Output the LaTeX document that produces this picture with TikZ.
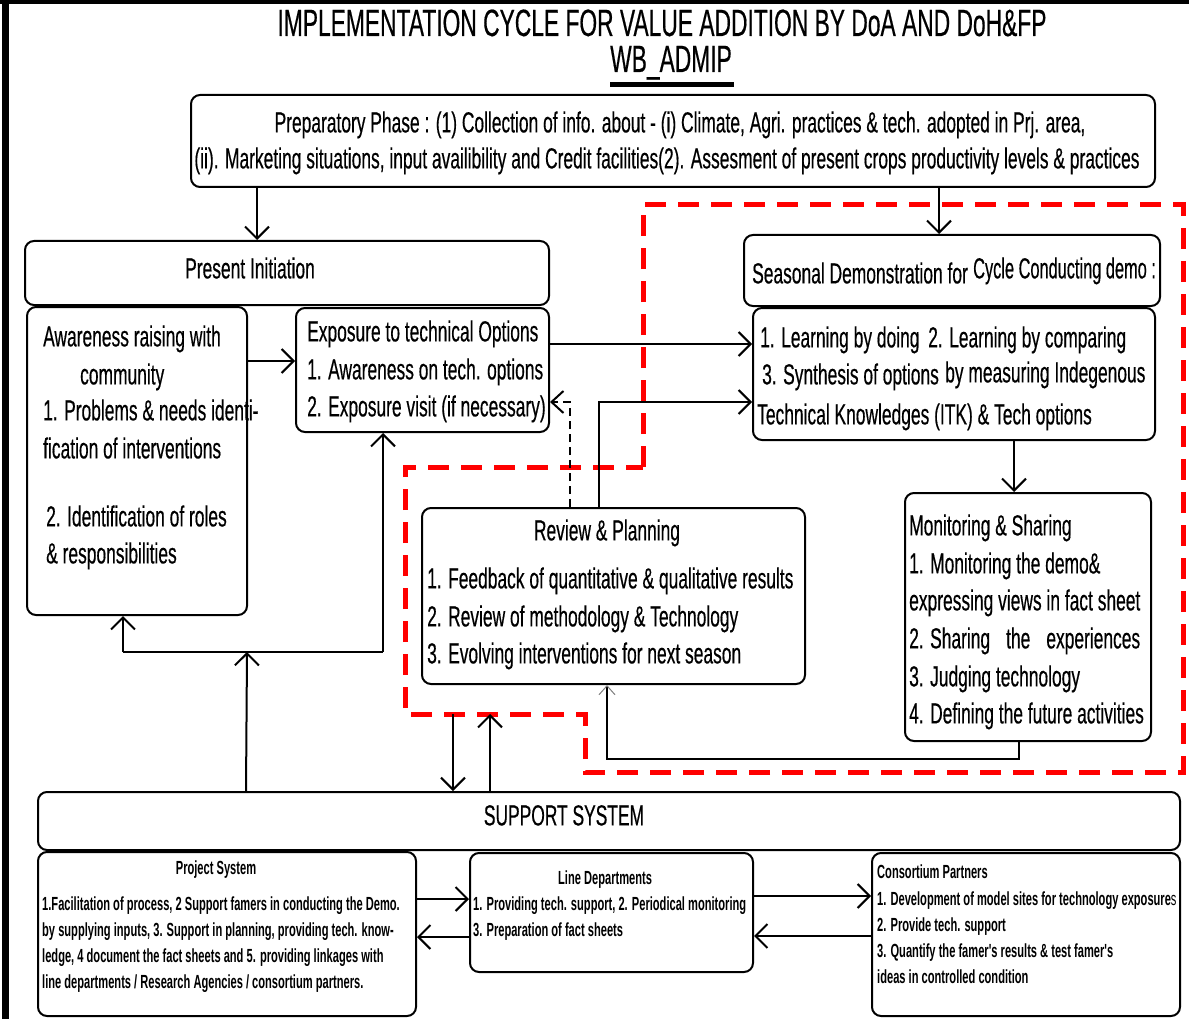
\documentclass[tikz,border=0pt]{standalone}
\usepackage{fontspec}
\setmainfont{Liberation Sans}[FakeStretch=0.6,FakeBold=0.4]
\newfontfamily\headfont{Liberation Sans}[FakeStretch=0.6,FakeBold=0.4]
\newfontfamily\narrowfont{Liberation Sans}[FakeStretch=0.585]
\usetikzlibrary{arrows.meta}

\newcommand{\mainsz}{\fontsize{29}{34}\selectfont}
\newcommand{\titlesz}{\headfont\fontsize{38}{44}\selectfont}
\newcommand{\smallsz}{\narrowfont\fontsize{19}{23}\selectfont\bfseries}

% rounded box from corner (x1,y1) to corner (x2,y2)
\newcommand{\panel}[5]{%
  \node[panel, minimum width={(#4-#2)*1pt}, minimum height={(#5-#3)*1pt}]
    (#1) at ({(#2+#4)/2},{(#3+#5)/2}) {};}
% text line: left edge x, vertical middle y
\newcommand{\txl}[4]{\node[txt, anchor=base west] (#1) at (#2,{#3+10.4}) {#4};}
% centred text line
\newcommand{\txc}[4]{\node[txt, anchor=base] (#1) at (#2,{#3+10.4}) {#4};}
% small text lines
\newcommand{\sml}[4]{\node[stxt, anchor=base west] (#1) at (#2,{#3+6.8}) {#4};}
\newcommand{\smc}[4]{\node[stxt, anchor=base] (#1) at (#2,{#3+6.8}) {#4};}

\tikzset{
  panel/.style={draw, line width=2pt, rounded corners=9pt, inner sep=0pt},
  txt/.style={inner sep=0pt, font=\mainsz},
  stxt/.style={inner sep=0pt, font=\smallsz},
  ln/.style={line width=2pt},
  arr/.style={line width=2pt, -{Straight Barb[length=12pt,width=24pt]}},
  thinarr/.style={line width=2pt, -{Straight Barb[length=9pt,width=16pt,line width=1pt,color=gray]}},
  dasharr/.style={line width=1.6pt, dash pattern=on 8pt off 5pt,
    -{Straight Barb[length=12pt,width=22pt,line width=2pt]}},
  reddash/.style={draw=red, line width=5pt, dash pattern=on 21pt off 12pt},
}

\begin{document}
\begin{tikzpicture}[x=1pt,y=-1pt]
\useasboundingbox (0,0) rectangle (1189,1019);
\fill[white] (0,0) rectangle (1189,1019);

% frame edges
\fill[black] (2,0) rectangle (9,1019);
\fill[black] (0,0) rectangle (1189,4);

% heading
\node[inner sep=0pt, anchor=base, font=\titlesz] (title) at (662,36)
  {IMPLEMENTATION CYCLE FOR VALUE ADDITION BY DoA AND DoH\&FP};
\node[inner sep=0pt, anchor=base, font=\titlesz] (sub) at (671,72) {WB\_ADMIP};
\fill[black] (610,82) rectangle (734,87);

% boxes
\panel{prep}{191}{95}{1155}{187}
\panel{init}{25}{241}{549}{305}
\panel{aware}{27}{307}{247}{615}
\panel{expo}{296}{308}{549}{432}
\panel{season}{744}{235}{1160}{306}
\panel{learn}{753}{308}{1155}{440}
\panel{review}{422}{508}{805}{684}
\panel{monitor}{905}{493}{1151}{741}
\panel{support}{38}{792}{1180}{850}
\panel{project}{38}{852}{416}{1016}
\panel{linedep}{470}{853}{753}{972}
\panel{consort}{872}{853}{1180}{1016}

% group of the seasonal cycle
\draw[reddash] (643,467) -- (643,205) -- (1183,205) -- (1183,772)
  -- (585,772) -- (585,714) -- (405,714) -- (405,467) -- cycle;

% texts
\txc{p1}{680}{122}{Preparatory Phase : (1) Collection of info. about - (i) Climate, Agri. practices \& tech. adopted in Prj. area,}
\txc{p2}{667}{158}{(ii). Marketing situations, input availibility and Credit facilities(2). Assesment of present crops productivity levels \& practices}

\txc{i1}{250}{268}{Present Initiation}

\txl{a1}{43}{336}{Awareness raising with}
\txl{a2}{80}{374}{community}
\txl{a3}{43}{410}{1. Problems \& needs identi-}
\txl{a4}{43}{448}{fication of interventions}
\txl{a5}{46}{516}{2. Identification of roles}
\txl{a6}{46}{553}{\& responsibilities}

\txl{e1}{307}{331}{Exposure to technical Options}
\txl{e2}{307}{369}{1. Awareness on tech. options}
\txl{e3}{307}{406}{2. Exposure visit (if necessary)}

\txl{s1}{752}{273}{Seasonal Demonstration for}
\txl{s2}{973}{268}{\scalebox{0.94}[1]{Cycle Conducting demo :}}

\txl{l1}{760}{337}{1. Learning by doing}
\txl{l2}{928}{337}{2. Learning by comparing}
\txl{l3}{762}{374}{3. Synthesis of options}
\txl{l4}{945}{372}{by measuring Indegenous}
\txl{l5}{757}{414}{Technical Knowledges (ITK) \& Tech options}

\txc{r0}{607}{530}{Review \& Planning}
\txl{r1}{427}{578}{1. Feedback of quantitative \& qualitative results}
\txl{r2}{427}{616}{2. Review of methodology \& Technology}
\txl{r3}{427}{653}{3. Evolving interventions for next season}

\txl{m0}{909}{525}{Monitoring \& Sharing}
\txl{m1}{909}{563}{1. Monitoring the demo\&}
\txl{m2}{909}{600}{expressing views in fact sheet}
\txl{m3}{909}{638}{\hbox to 231pt{2. Sharing\hfill the\hfill experiences}}
\txl{m4}{909}{676}{3. Judging technology}
\txl{m5}{909}{713}{4. Defining the future activities}

\txc{ss}{564}{815}{SUPPORT SYSTEM}

\smc{ps0}{216}{868}{Project System}
\sml{ps1}{42}{904}{1.Facilitation of process, 2 Support famers in conducting the Demo.}
\sml{ps2}{42}{930}{by supplying inputs, 3. Support in planning, providing tech. know-}
\sml{ps3}{42}{956}{ledge, 4 document the fact sheets and 5. providing linkages with}
\sml{ps4}{42}{982}{line departments / Research Agencies / consortium partners.}

\sml{ld0}{558}{878}{Line Departments}
\sml{ld1}{473}{904}{1. Providing tech. support, 2. Periodical monitoring}
\sml{ld2}{473}{930}{3. Preparation of fact sheets}

\sml{cp0}{877}{872}{Consortium Partners}
\sml{cp1}{877}{899}{1. Development of model sites for technology exposure{\mdseries s}}
\sml{cp2}{877}{925}{2. Provide tech. support}
\sml{cp3}{877}{951}{3. Quantify the famer's results \& test famer's}
\sml{cp4}{877}{977}{ideas in controlled condition}

% connectors
\draw[arr] ([xshift=67pt]prep.south west) -- ([xshift=233pt]init.north west);
\draw[arr] ([xshift=749pt]prep.south west) -- ([xshift=196pt]season.north west);
\draw[arr] ([yshift=-55pt]aware.north east) -- ([yshift=-54pt]expo.north west);
\draw[arr] ([yshift=-37pt]expo.north east) -- ([yshift=-37pt]learn.north west);
\draw[arr] ([xshift=178pt]review.north west) |- ([yshift=-95pt]learn.north west);
\draw[dasharr] ([xshift=149pt]review.north west) |- ([yshift=-95pt]expo.north east);
\draw[arr] ([xshift=262pt]learn.south west) -- ([xshift=110pt]monitor.north west);
\draw[thinarr] ([xshift=115pt]monitor.south west) -- ++(0,17) -| ([xshift=186pt]review.south west);

% from the support system up to the initiation boxes
\coordinate (hub) at (247,652);
\draw[arr] ([xshift=209pt]support.north west) -- (hub);
\draw[ln] ([xshift=97pt]aware.south west |- hub) -- ([xshift=88pt]expo.south west |- hub);
\draw[arr] ([xshift=97pt]aware.south west |- hub) -- ([xshift=97pt]aware.south west);
\draw[arr] ([xshift=88pt]expo.south west |- hub) -- ([xshift=88pt]expo.south west);

% between the seasonal cycle and the support system
\coordinate (gdown) at (453,714);
\coordinate (gup) at (490,714);
\draw[arr] (gdown) -- (support.north -| gdown);
\draw[arr] (support.north -| gup) -- (gup);

% links among the support partners
\draw[arr] ([yshift=-48pt]project.north east) -- ([yshift=-47pt]linedep.north west);
\draw[arr] ([yshift=-85pt]linedep.north west) -- ([yshift=-86pt]project.north east);
\draw[arr] ([yshift=-44pt]linedep.north east) -- ([yshift=-44pt]consort.north west);
\draw[arr] ([yshift=-84pt]consort.north west) -- ([yshift=-84pt]linedep.north east);
\end{tikzpicture}
\end{document}
